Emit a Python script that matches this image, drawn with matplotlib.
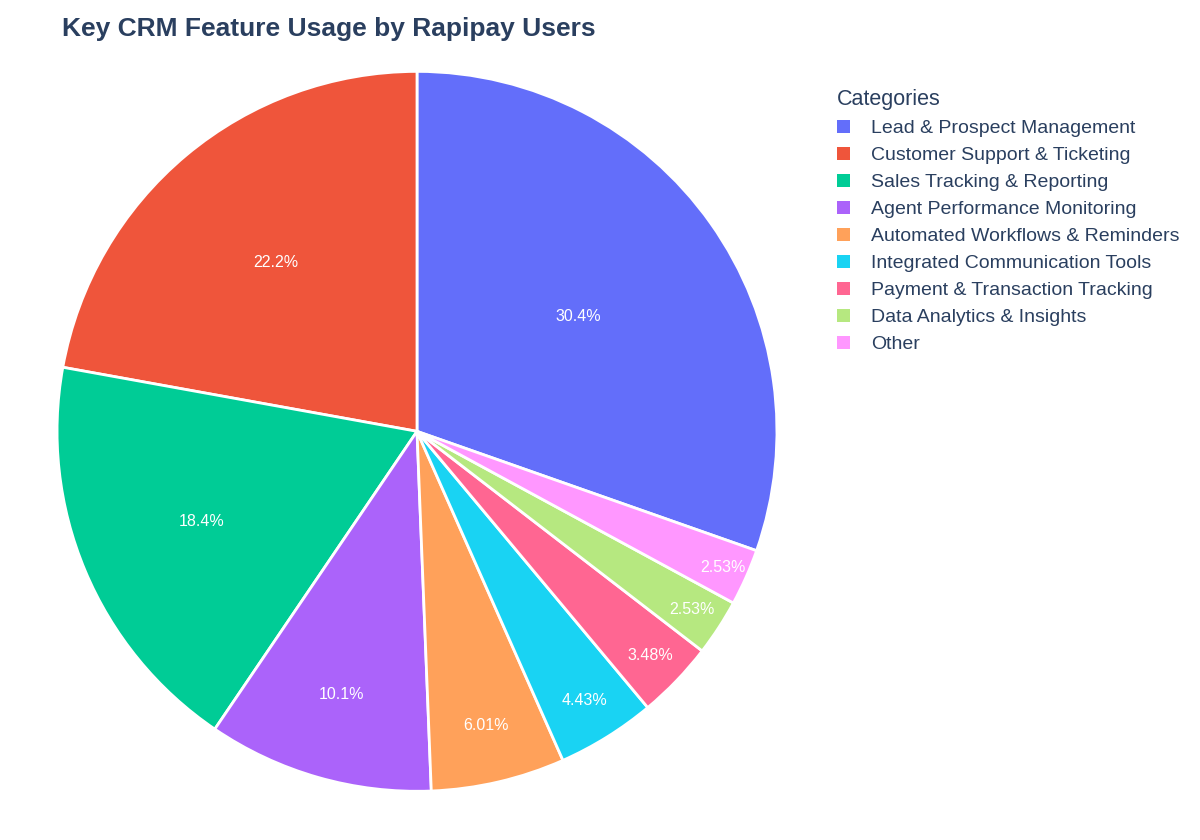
import matplotlib
matplotlib.use("Agg")
import matplotlib.pyplot as plt
from matplotlib.patches import Patch
import numpy as np

plt.rcParams["font.family"] = "Liberation Sans"

categories = ["Lead & Prospect Management", "Customer Support & Ticketing",
              "Sales Tracking & Reporting", "Agent Performance Monitoring",
              "Automated Workflows & Reminders", "Integrated Communication Tools",
              "Payment & Transaction Tracking", "Data Analytics & Insights", "Other"]
values = [96, 70, 58, 32, 19, 14, 11, 8, 8]
colors = ["#636EFA", "#EF553B", "#00CC96", "#AB63FA", "#FFA15A",
          "#19D3F3", "#FF6692", "#B6E880", "#FF97FF"]
label_radius = [0.55, 0.61, 0.65, 0.76, 0.84, 0.88, 0.90, 0.91, 0.93]

def fmt(p):
    return f"{p:.3g}%"

fig = plt.figure(figsize=(12, 8.4), dpi=100)
ax = fig.add_axes([0.0475, 0.058, 0.6, 0.857])
total = sum(values)
start = 90 - 360 * values[0] / total
wedges, _ = ax.pie(values, colors=colors, startangle=start, counterclock=True,
                   wedgeprops=dict(edgecolor="white", linewidth=2))
for w, v, r in zip(wedges, values, label_radius):
    ang = np.deg2rad((w.theta1 + w.theta2) / 2)
    ax.text(r * np.cos(ang), r * np.sin(ang), fmt(100 * v / total),
            ha="center", va="center", color="white", fontsize=11.5)
ax.set_aspect("equal")
ax.set_xlim(-1, 1); ax.set_ylim(-1, 1)

fig.text(0.052, 0.966, "Key CRM Feature Usage by Rapipay Users", fontsize=19,
         fontweight="bold", color="#2a3f5f", ha="left", va="center")

handles = [Patch(facecolor=c, edgecolor="none") for c in colors]
leg = fig.legend(handles, categories, loc="upper left", bbox_to_anchor=(0.683, 0.915),
                 frameon=False, title="Categories", fontsize=14, title_fontsize=15.5,
                 handlelength=0.65, handleheight=0.65, handletextpad=1.1,
                 labelspacing=0.5, alignment="left")
for t in leg.get_texts():
    t.set_color("#2a3f5f")
leg.get_title().set_color("#2a3f5f")

fig.savefig("out.png", dpi=100, facecolor="white")
